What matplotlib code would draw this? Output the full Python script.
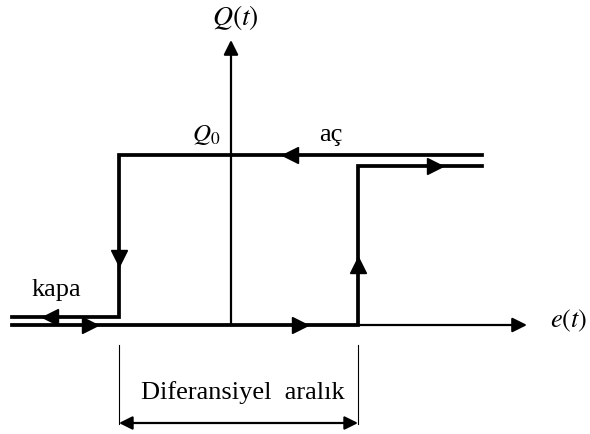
"""
Hysteresis (on/off) controller diagram: Q(t) vs e(t)
"""

import matplotlib.pyplot as plt

plt.rcParams['font.family'] = ['Liberation Serif', 'DejaVu Serif']
plt.rcParams['mathtext.fontset'] = 'stix'

# Diagram geometry (units ~ pixels, origin at axis crossing)
e_left = -219          # left end of the lines
e_close = -112         # kapa switch point
e_open = 127           # aç switch point
e_right = 251          # right end of the lines
e_axis_tip = 296
q_axis_tip = 285

q_high = 170           # Q0 level (closing branch)
q_high_open = 159      # level of opening branch
q_kapa = 8             # offset of the kapa branch
q_low = 0

# closing branch: comes from the right at Q0, drops at e_close, leaves to the left
close_x = [e_right, e_close, e_close, e_left]
close_y = [q_high, q_high, q_kapa, q_kapa]
# opening branch: comes from the left at 0, rises at e_open, leaves to the right
open_x = [e_left, e_open, e_open, e_right]
open_y = [q_low, q_low, q_high_open, q_high_open]

# arrowheads on the paths (x, y, marker)
heads = [(59, q_high, '<'), (e_close, 67, 'v'), (-181, q_kapa, '<'),
         (-141, q_low, '>'), (69, q_low, '>'), (e_open, 60, '^'),
         (204, q_high_open, '>')]

fig = plt.figure(figsize=(5.9, 4.34), dpi=100)
ax = fig.add_axes([0, 0, 1, 1])
ax.set_xlim(-231, 359)
ax.set_ylim(-109, 325)
ax.axis('off')

# axes with arrows
ax.annotate('', xy=(e_axis_tip, 0), xytext=(e_left, 0),
            arrowprops=dict(arrowstyle='-|>', lw=1.6, color='black',
                            mutation_scale=22, shrinkA=0, shrinkB=0))
ax.annotate('', xy=(0, q_axis_tip), xytext=(0, 0),
            arrowprops=dict(arrowstyle='-|>', lw=1.6, color='black',
                            mutation_scale=22, shrinkA=0, shrinkB=0))

# branches
ax.plot(close_x, close_y, color='black', lw=2.7, solid_joinstyle='miter')
ax.plot(open_x, open_y, color='black', lw=2.7, solid_joinstyle='miter')
for x, y, m in heads:
    ax.plot(x, y, marker=m, color='black', markersize=11)

# differential gap dimension
ax.plot([e_close, e_close], [-20, -99], color='black', lw=0.8)
ax.plot([e_open, e_open], [-20, -99], color='black', lw=0.8)
ax.annotate('', xy=(e_close, -98), xytext=(e_open, -98),
            arrowprops=dict(arrowstyle='<|-|>', lw=1.6, color='black',
                            mutation_scale=20, shrinkA=0, shrinkB=0))
ax.text(12, -68, 'Diferansiyel  aralık', fontsize=19, ha='center', va='center')

# labels
ax.text(4, 307, r'$Q(t)$', fontsize=20, ha='center', va='center')
ax.text(-25, 190, r'$Q_0$', fontsize=18, ha='center', va='center')
ax.text(100, 190, 'aç', fontsize=19, ha='center', va='center')
ax.text(-175, 35, 'kapa', fontsize=19, ha='center', va='center')
ax.text(338, 4, r'$e(t)$', fontsize=19, ha='center', va='center')

plt.savefig('out.png', dpi=100)
